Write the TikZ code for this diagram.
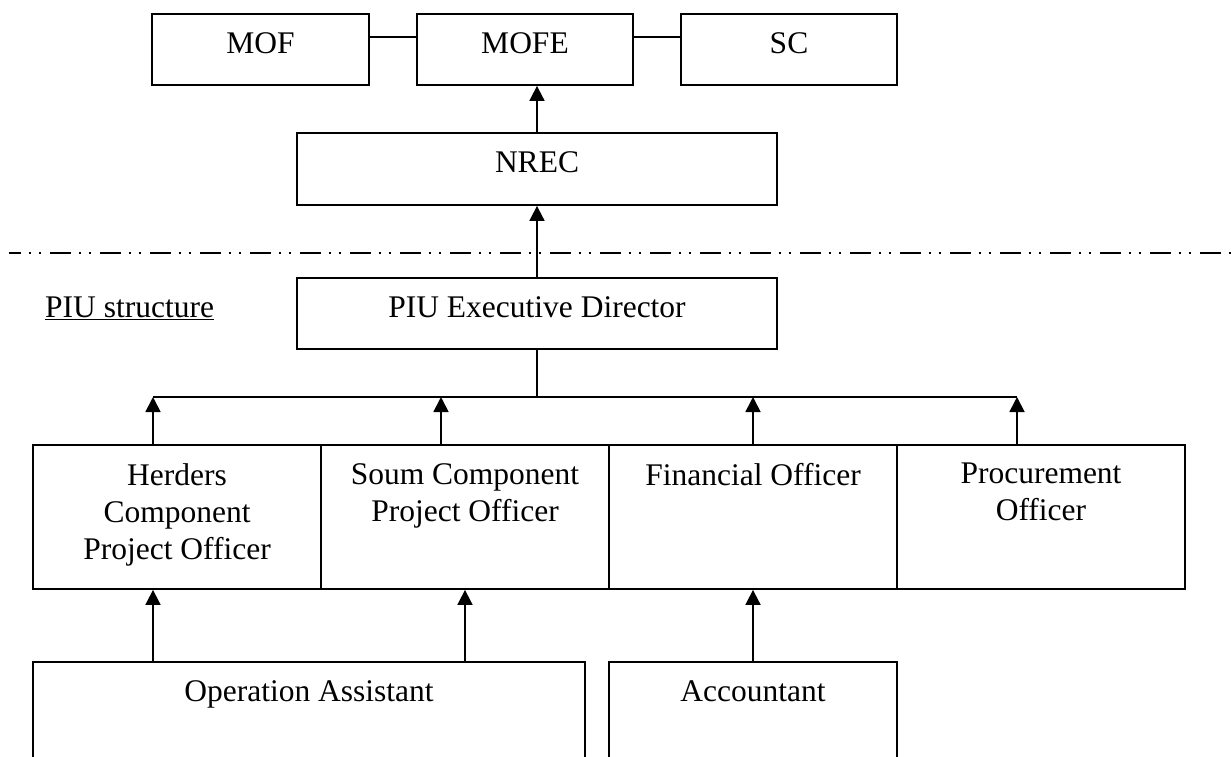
\documentclass[tikz,border=0pt]{standalone}
\usepackage{fontspec}
\setmainfont{Liberation Serif}
\usetikzlibrary{arrows.meta}
\begin{document}
\begin{tikzpicture}[x=1pt,y=-1pt,
  orgbox/.style={draw, line width=1.8pt, inner sep=0pt, minimum width=#1},
  lbl/.style={anchor=north, inner sep=0pt, align=center,
    font=\fontsize{31.5}{37}\selectfont},
  link/.style={line width=1.8pt},
  uparrow/.style={line width=1.8pt, -{Triangle[width=15pt,length=15pt]}},
  sepline/.style={line width=2.4pt,
    dash pattern=on 21pt off 8pt on 2pt off 8pt on 2pt off 9pt, dash phase=9pt}
]
\useasboundingbox (0,0) rectangle (1231,756);

% ministries
\node[orgbox=217pt, minimum height=71pt] (mof)  at (260.5,49.5) {};
\node[orgbox=216pt, minimum height=71pt] (mofe) at (525,49.5) {};
\node[orgbox=216pt, minimum height=71pt] (sc)   at (789,49.5) {};
\node[lbl] (tmof)  at ([yshift=-19pt]mof.north)  {MOF};
\node[lbl] (tmofe) at ([yshift=-19pt]mofe.north) {MOFE};
\node[lbl] (tsc)   at ([yshift=-19pt]sc.north)   {SC};
\draw[link] ([yshift=12.5pt]mof.east) -- ([yshift=12.5pt]mofe.west);
\draw[link] ([yshift=12.5pt]mofe.east) -- ([yshift=12.5pt]sc.west);

% NREC and PIU head
\node[orgbox=480pt, minimum height=72pt] (nrec) at (537,169) {};
\node[lbl] (tnrec) at ([yshift=-19pt]nrec.north) {NREC};
\node[orgbox=480pt, minimum height=71pt] (piu) at (537,313.5) {};
\node[lbl] (tpiu) at ([yshift=-19pt]piu.north) {PIU Executive Director};
\draw[uparrow] (nrec.north) -- (nrec.north |- mofe.south);

% boundary of the PIU
\coordinate (dl) at (9,253);
\coordinate (dr) at (1231,253);
\draw[sepline] (dl) -- (dr);
\draw[uparrow] (piu.north) -- (nrec.south);
\node[anchor=base west, inner sep=0pt, font=\fontsize{31.5}{37}\selectfont]
  (piustr) at (45,317) {\underline{PIU structure}};

% officers
\node[orgbox=288pt, minimum height=144pt] (herd) at (177,517) {};
\node[orgbox=288pt, minimum height=144pt] (soum) at (465,517) {};
\node[orgbox=288pt, minimum height=144pt] (fin)  at (753,517) {};
\node[orgbox=288pt, minimum height=144pt] (proc) at (1041,517) {};
\node[lbl] (therd) at ([yshift=-19pt]herd.north) {Herders\\Component\\Project Officer};
\node[lbl] (tsoum) at ([yshift=-19pt]soum.north) {Soum Component\\Project Officer};
\node[lbl] (tfin)  at ([yshift=-19pt]fin.north)  {Financial Officer};
\node[lbl] (tproc) at ([yshift=-19pt]proc.north) {Procurement\\Officer};

% reporting bus
\coordinate (b1) at (153,397);
\coordinate (b2) at (441,397);
\coordinate (b3) at (753,397);
\coordinate (b4) at (1017,397);
\draw[link] (b1) -- (b4);
\draw[link] (piu.south) -- (piu.south |- b1);
\draw[uparrow] (b1 |- herd.north) -- (b1);
\draw[uparrow] (b2 |- soum.north) -- (b2);
\draw[uparrow] (b3 |- fin.north) -- (b3);
\draw[uparrow] (b4 |- proc.north) -- (b4);

% support staff
\begin{scope}
\clip (0,0) rectangle (1231,756);
\node[orgbox=552pt, minimum height=138pt] (opa) at (309,731) {};
\node[orgbox=288pt, minimum height=138pt] (acc) at (753,731) {};
\end{scope}
\node[lbl] (topa) at ([yshift=-19pt]opa.north) {Operation Assistant};
\node[lbl] (tacc) at ([yshift=-19pt]acc.north) {Accountant};
\draw[uparrow] (b1 |- opa.north) -- (b1 |- herd.south);
\draw[uparrow] (opa.north -| soum.south) -- (soum.south);
\draw[uparrow] (acc.north) -- (fin.south);
\end{tikzpicture}
\end{document}
